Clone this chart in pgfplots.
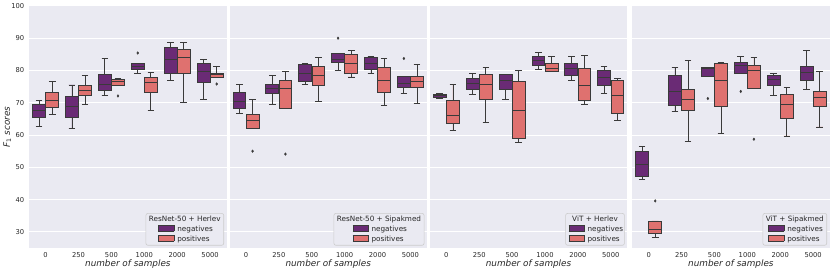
\documentclass[border=0pt]{standalone}
\usepackage{fontspec}
\setmainfont{DejaVu Sans}
\usepackage{pgfplots}
\pgfplotsset{compat=1.18}
\usepgfplotslibrary{statistics}
\definecolor{bgc}{HTML}{EAEAF2}
\definecolor{negc}{HTML}{6A2B75}
\definecolor{posc}{HTML}{DF716F}
\definecolor{edgec}{HTML}{3A3A3A}
\definecolor{txtc}{HTML}{262626}
\definecolor{legedge}{HTML}{CCCCCC}

\pgfplotsset{
  panel/.style={
    scale only axis, width=198bp, height=243bp,
    xmin=-0.5, xmax=5.5, ymin=25, ymax=100,
    axis background/.style={fill=bgc},
    axis line style={draw=none},
    ymajorgrids, major grid style={draw=white, line width=0.9bp},
    xtick={0,...,5}, xticklabels={0,250,500,1000,2000,5000},
    ytick={30,40,...,100},
    major tick length=0pt, tick style={draw=none},
    ticklabel style={font=\fontsize{6.8}{8}\selectfont, text=txtc},
    xticklabel style={yshift=-1bp},
    yticklabel style={xshift=-1.5bp},
    /pgf/number format/assume math mode=true,
    xlabel={\textit{number of samples}},
    xlabel style={at={(rel axis cs:0.5,0)}, anchor=base, yshift=-18bp,
      font=\fontsize{8.9}{10}\selectfont, text=txtc},
  },
  boxplot/draw direction=y,
  boxplot/box extend=0.39,
  boxplot/whisker extend=0.2,
  negbox/.style={draw=edgec, fill=negc, line width=0.8bp, solid, mark=none, forget plot},
  posbox/.style={draw=edgec, fill=posc, line width=0.8bp, solid, mark=none, forget plot},
  flier/.style={only marks, mark=diamond*, mark size=1.3bp, draw=edgec, fill=edgec, forget plot},
}

% position, lower whisker, lower quartile, median, upper quartile, upper whisker
\newcommand{\bxN}[6]{\addplot[negbox, boxplot prepared={draw position=#1, lower whisker=#2, lower quartile=#3, median=#4, upper quartile=#5, upper whisker=#6}] coordinates {};}
\newcommand{\bxP}[6]{\addplot[posbox, boxplot prepared={draw position=#1, lower whisker=#2, lower quartile=#3, median=#4, upper quartile=#5, upper whisker=#6}] coordinates {};}
\newcommand{\patch}[1]{\raisebox{0.2bp}{\setlength{\fboxsep}{0pt}\setlength{\fboxrule}{0.5bp}\fcolorbox{edgec}{#1}{\rule{15bp}{0pt}\rule{0pt}{5.5bp}}}}
\newcommand{\leg}[1]{\node[anchor=south east, xshift=-2.5bp, yshift=2.5bp, fill=bgc, draw=legedge, line width=0.6bp, rounded corners=2bp, inner xsep=3bp, inner ysep=2.5bp, align=center, font=\fontsize{7.3}{10}\selectfont, text=txtc] at (rel axis cs:1,0) {#1\\ \makebox[53bp][l]{\patch{negc}\hspace{3bp}negatives}\\ \makebox[53bp][l]{\patch{posc}\hspace{3bp}positives}};}

\begin{document}
\begin{tikzpicture}
\path (-27bp,-21bp) rectangle (803bp,246bp);

% ---------------- ResNet-50 + Herlev
\begin{axis}[panel, at={(0,0)}]
\bxN{-0.2}{62.6}{65.5}{67.7}{69.5}{70.7}
\bxN{0.8}{62.1}{65.6}{69.0}{72.1}{75.5}
\bxN{1.8}{72.2}{73.7}{75.7}{78.8}{83.7}
\bxN{2.8}{79.2}{80.3}{81.3}{82.2}{82.2}
\bxN{3.8}{76.9}{79.2}{83.3}{87.1}{88.7}
\bxN{4.8}{71.1}{76.2}{79.7}{82.2}{83.3}
\bxP{0.2}{66.3}{68.7}{70.8}{73.3}{76.7}
\bxP{1.2}{69.4}{72.4}{73.9}{75.3}{78.5}
\bxP{2.2}{75.5}{75.5}{76.6}{77.2}{77.6}
\bxP{3.2}{67.5}{73.3}{76.4}{77.9}{79.4}
\bxP{4.2}{70.2}{79.2}{84.1}{86.4}{88.7}
\bxP{5.2}{77.9}{77.9}{78.7}{79.2}{81.3}
\addplot[flier] coordinates {(2.8,85.4) (2.2,72.1) (5.2,75.8)};
\leg{ResNet-50 + Herlev}
\end{axis}

% ---------------- ResNet-50 + Sipakmed
\begin{axis}[panel, at={(201bp,0)}, yticklabels={}]
\bxN{-0.2}{66.7}{68.3}{70.5}{73.1}{75.6}
\bxN{0.8}{69.5}{73.0}{74.4}{75.7}{78.5}
\bxN{1.8}{75.7}{76.6}{79.2}{81.8}{82.1}
\bxN{2.8}{79.9}{82.5}{83.3}{85.2}{85.2}
\bxN{3.8}{79.2}{80.2}{82.1}{84.1}{84.2}
\bxN{4.8}{72.8}{74.7}{75.9}{78.2}{78.2}
\bxP{0.2}{62.0}{62.0}{64.6}{66.4}{71.1}
\bxP{1.2}{68.1}{68.1}{74.3}{76.9}{79.6}
\bxP{2.2}{70.5}{75.3}{78.5}{81.3}{84.1}
\bxP{3.2}{78.0}{79.2}{82.3}{85.1}{86.2}
\bxP{4.2}{69.2}{73.1}{77.0}{80.8}{83.7}
\bxP{5.2}{69.7}{74.7}{76.7}{78.2}{81.8}
\addplot[flier] coordinates {(2.8,90.0) (4.8,83.7) (0.2,55.0) (1.2,54.1)};
\leg{ResNet-50 + Sipakmed}
\end{axis}

% ---------------- ViT + Herlev
\begin{axis}[panel, at={(402bp,0)}, yticklabels={}]
\bxN{-0.2}{71.2}{71.7}{72.2}{72.6}{72.9}
\bxN{0.8}{72.5}{74.2}{75.9}{77.6}{79.1}
\bxN{1.8}{70.9}{74.2}{77.0}{78.7}{78.7}
\bxN{2.8}{80.4}{81.7}{83.1}{84.4}{85.6}
\bxN{3.8}{76.9}{78.6}{80.5}{82.3}{84.4}
\bxN{4.8}{73.0}{75.5}{78.0}{79.9}{81.1}
\bxP{0.2}{61.3}{63.6}{66.0}{70.8}{75.7}
\bxP{1.2}{63.8}{71.1}{75.8}{78.7}{81.0}
\bxP{2.2}{57.8}{59.1}{67.6}{76.7}{80.1}
\bxP{3.2}{79.7}{79.7}{80.6}{82.3}{84.3}
\bxP{4.2}{69.4}{70.8}{75.3}{80.7}{84.7}
\bxP{5.2}{64.6}{66.8}{72.3}{77.0}{77.5}
\leg{ViT + Herlev}
\end{axis}

% ---------------- ViT + Sipakmed
\begin{axis}[panel, at={(605bp,0)}, yticklabels={}]
\bxN{-0.2}{46.3}{47.2}{50.9}{54.8}{56.4}
\bxN{0.8}{67.4}{69.1}{73.6}{78.5}{80.9}
\bxN{1.8}{78.2}{78.2}{80.5}{80.8}{81.0}
\bxN{2.8}{79.2}{79.2}{81.6}{82.6}{84.4}
\bxN{3.8}{72.3}{75.3}{77.2}{78.5}{79.0}
\bxN{4.8}{74.1}{77.0}{79.4}{81.3}{86.2}
\bxP{0.2}{28.4}{29.6}{30.8}{33.4}{33.4}
\bxP{1.2}{58.0}{67.6}{71.1}{74.1}{83.1}
\bxP{2.2}{60.4}{69.0}{77.0}{82.2}{82.5}
\bxP{3.2}{74.3}{74.3}{80.1}{81.6}{84.0}
\bxP{4.2}{59.7}{65.1}{69.5}{72.7}{74.8}
\bxP{5.2}{62.5}{69.0}{71.8}{73.6}{79.7}
\addplot[flier] coordinates {(1.8,71.3) (2.8,73.5) (0.2,39.6) (3.2,58.7)};
\leg{ViT + Sipakmed}
\end{axis}

\node[rotate=90, anchor=base, font=\fontsize{8.9}{10}\selectfont, text=txtc] at (-19.5bp,121.5bp) {\textit{F}\textsubscript{1} \textit{scores}};
\end{tikzpicture}
\end{document}
